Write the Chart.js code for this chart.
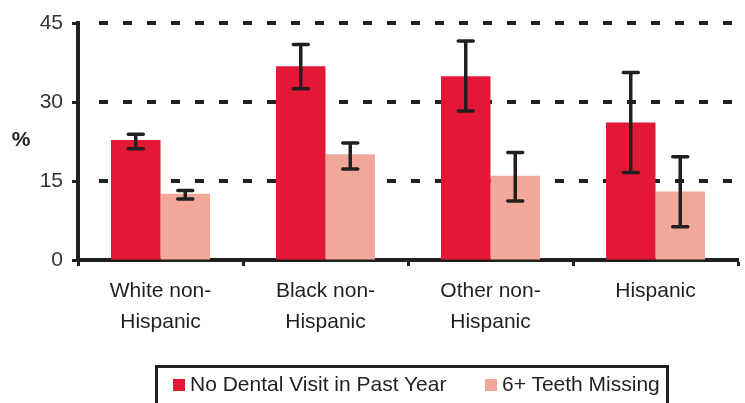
<!DOCTYPE html>
<html>
<head>
<meta charset="utf-8">
<script src="https://cdn.jsdelivr.net/npm/chart.js@4/dist/chart.umd.min.js"></script>
<style>
  html, body { margin: 0; padding: 0; background: #fff; }
  #wrap { position: relative; width: 745px; height: 403px; overflow: hidden; }
  canvas { position: absolute; left: 0; top: 0; }
  #legend {
    position: absolute; left: 155px; top: 365px; width: 514px; height: 60px;
    border: 3px solid #231F20; box-sizing: border-box;
    font-family: "Liberation Sans", Arial, sans-serif; font-size: 21px; color: #231F20;
  }
  .item { position: absolute; top: 4px; white-space: nowrap; line-height: 24px; }
  .sw { display: inline-block; width: 12px; height: 12px; margin-right: 5px; vertical-align: 0px; }
</style>
</head>
<body>
<div id="wrap">
  <canvas id="chart" width="745" height="403"></canvas>
  <div id="legend"></div>
</div>
<script>
// Race / ethnicity groups (two-line labels)
const categories = [
  ['White non-', 'Hispanic'],
  ['Black non-', 'Hispanic'],
  ['Other non-', 'Hispanic'],
  ['Hispanic']
];
const seriesNames = ['No Dental Visit in Past Year', '6+ Teeth Missing'];

// Percent estimates with 95% confidence limits
const noVisit      = [22.8, 36.8, 34.9, 26.1];
const noVisitLow   = [21.1, 32.5, 28.3, 16.6];
const noVisitHigh  = [23.9, 40.9, 41.6, 35.6];

const missing      = [12.6, 20.1, 16.0, 13.0];
const missingLow   = [11.6, 17.3, 11.2, 6.3];
const missingHigh  = [13.2, 22.2, 20.4, 19.6];

const yTicks = [0, 15, 30, 45];

const RED = '#E31837';
const PINK = '#F2A898';
const INK = '#231F20';
const FONT = '"Liberation Sans", Arial, sans-serif';

const lows = [noVisitLow, missingLow];
const highs = [noVisitHigh, missingHigh];

// Dashed reference lines drawn behind the bars, starting a little right of the axis
const dashedGrid = {
  id: 'dashedGrid',
  beforeDatasetsDraw(chart) {
    const { ctx, chartArea, scales } = chart;
    ctx.save();
    ctx.strokeStyle = INK;
    ctx.lineWidth = 4;
    ctx.setLineDash([9, 15]);
    yTicks.filter(v => v > 0).forEach(v => {
      const y = Math.round(scales.y.getPixelForValue(v));
      ctx.beginPath();
      ctx.moveTo(chartArea.left + 21, y);
      ctx.lineTo(chartArea.right, y);
      ctx.stroke();
    });
    ctx.restore();
  }
};

// Confidence-interval whiskers on each bar
const errorBars = {
  id: 'errorBars',
  afterDatasetsDraw(chart) {
    const { ctx, scales } = chart;
    ctx.save();
    ctx.strokeStyle = INK;
    ctx.lineWidth = 3.5;
    ctx.lineCap = 'round';
    chart.data.datasets.forEach((ds, i) => {
      const meta = chart.getDatasetMeta(i);
      meta.data.forEach((bar, j) => {
        const x = bar.x;
        const yH = scales.y.getPixelForValue(highs[i][j]);
        const yL = scales.y.getPixelForValue(lows[i][j]);
        ctx.beginPath();
        ctx.moveTo(x, yH); ctx.lineTo(x, yL);
        ctx.moveTo(x - 7.5, yH); ctx.lineTo(x + 7.5, yH);
        ctx.moveTo(x - 7.5, yL); ctx.lineTo(x + 7.5, yL);
        ctx.stroke();
      });
    });
    ctx.restore();
  }
};

// Unrotated "%" unit label beside the value axis
const unitLabel = {
  id: 'unitLabel',
  afterDraw(chart) {
    const { ctx } = chart;
    ctx.save();
    ctx.font = 'bold 21px ' + FONT;
    ctx.fillStyle = INK;
    ctx.textAlign = 'center';
    ctx.textBaseline = 'middle';
    ctx.fillText('%', 21, 140);
    ctx.restore();
  }
};

new Chart(document.getElementById('chart'), {
  type: 'bar',
  data: {
    labels: categories,
    datasets: [
      { label: seriesNames[0], data: noVisit, backgroundColor: RED },
      { label: seriesNames[1], data: missing, backgroundColor: PINK }
    ]
  },
  options: {
    responsive: false,
    animation: false,
    devicePixelRatio: 1,
    categoryPercentage: 0.6,
    barPercentage: 1.0,
    layout: { padding: { left: 0, right: 7, top: 23, bottom: 0 } },
    plugins: { legend: { display: false }, tooltip: { enabled: false } },
    scales: {
      x: {
        grid: { display: true, drawOnChartArea: false, offset: true, tickLength: 6, tickColor: INK, tickWidth: 3 },
        border: { display: true, color: INK, width: 4 },
        ticks: {
          color: INK, padding: 10, maxRotation: 0, autoSkip: false,
          font: { family: FONT, size: 21, lineHeight: 1.476 }
        },
        afterFit(scale) { scale.height = 143; }
      },
      y: {
        min: 0, max: 45,
        afterBuildTicks(scale) { scale.ticks = yTicks.map(v => ({ value: v })); },
        grid: { display: true, drawOnChartArea: false, tickLength: 6, tickColor: INK, tickWidth: 3 },
        border: { display: true, color: INK, width: 4 },
        ticks: { color: '#333', padding: 9, font: { family: FONT, size: 21 } },
        afterFit(scale) { scale.width = 78; }
      }
    }
  },
  plugins: [dashedGrid, errorBars, unitLabel]
});

// Boxed legend along the bottom edge
const legend = document.getElementById('legend');
const swatches = [RED, PINK];
const lefts = [15, 327];
seriesNames.forEach((name, i) => {
  const item = document.createElement('div');
  item.className = 'item';
  item.style.left = lefts[i] + 'px';
  const sw = document.createElement('span');
  sw.className = 'sw';
  sw.style.background = swatches[i];
  item.appendChild(sw);
  item.appendChild(document.createTextNode(name));
  legend.appendChild(item);
});
</script>
</body>
</html>
